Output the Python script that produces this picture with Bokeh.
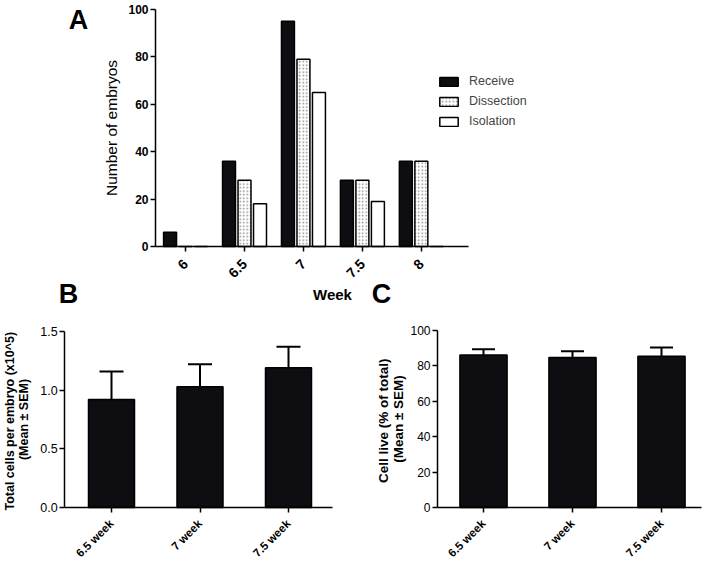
from math import pi
from bokeh.plotting import figure
from bokeh.models import (FixedTicker, Label, Legend, LegendItem, Whisker, TeeHead,
                          ColumnDataSource)
from bokeh.layouts import column, row
from bokeh.transform import dodge
from bokeh.embed import file_html
from bokeh.resources import INLINE

# ---------------- data ----------------
weeks = ["6", "6.5", "7", "7.5", "8"]
receive = [6, 36, 95, 28, 36]
dissection = [0, 28, 79, 28, 36]
isolation = [0, 18, 65, 19, 0]
A_yticks = [0, 20, 40, 60, 80, 100]

groups = ["6.5 week", "7 week", "7.5 week"]
cells_mean = [0.92, 1.03, 1.19]
cells_sem = [0.24, 0.19, 0.18]
B_yticks = [0.0, 0.5, 1.0, 1.5]

live_mean = [86.2, 84.7, 85.5]
live_sem = [3.2, 3.6, 4.9]
C_yticks = [0, 20, 40, 60, 80, 100]

FONT = "Liberation Sans"
BLACK = "#0d0d12"
W, H = 705, 564
A_H = 312


def lin(p0, d0, p1, d1):
    return lambda p: d0 + (p - p0) * (d1 - d0) / (p1 - p0)


def make_fig(left, top, width, height, xmap, ymap, xb, yb):
    """Figure whose frame fills the whole canvas; axes at fixed data locations.
    xmap / ymap: (page_px0, data0, page_px1, data1) in page pixel coordinates."""
    fx = lin(*xmap)
    fy = lin(*ymap)
    p = figure(width=width, height=height,
               x_range=(fx(left), fx(left + width)),
               y_range=(fy(top + height), fy(top)),
               output_backend="svg", toolbar_location=None, title=None,
               min_border=0)
    p.outline_line_color = None
    p.xgrid.visible = False
    p.ygrid.visible = False
    p.background_fill_color = "white"
    p.border_fill_color = "white"
    p.xaxis.fixed_location = yb[0]
    p.xaxis.bounds = xb
    p.yaxis.fixed_location = xb[0]
    p.yaxis.bounds = yb
    for ax in (p.xaxis, p.yaxis):
        ax.axis_line_width = 1.5
        ax.axis_line_color = "black"
        ax.major_tick_line_width = 1.5
        ax.major_tick_line_color = "black"
        ax.major_tick_out = 5
        ax.major_tick_in = 0
        ax.minor_tick_line_color = None
        ax.major_label_text_font = FONT
        ax.axis_label_text_font = FONT
        ax.major_label_text_color = "black"
        ax.axis_label_text_color = "black"
    return p, fx, fy


# ---------------- panel A ----------------
A_xb = (-0.51, 4.8)
pA, ax_, ay_ = make_fig(0, 0, W, A_H, (155, -0.51, 468, 4.8), (246, 0, 9, 100),
                        A_xb, (0, 100))

srcA = ColumnDataSource(dict(x=list(range(len(weeks))), receive=receive,
                             dissection=dissection, isolation=isolation))
bw = 0.22
off = 0.263
r1 = pA.vbar(x=dodge("x", -off), top="receive", width=bw, source=srcA,
             fill_color=BLACK, line_color="black", line_width=1.5)
r2 = pA.vbar(x=dodge("x", 0), top="dissection", width=bw, source=srcA,
             fill_color="white", line_color="black", line_width=1.5,
             hatch_pattern="dot", hatch_scale=3.5, hatch_weight=1, hatch_color="#8a8a8a")
r3 = pA.vbar(x=dodge("x", off), top="isolation", width=bw, source=srcA,
             fill_color="white", line_color="black", line_width=1.5)

pA.xaxis.ticker = FixedTicker(ticks=list(range(len(weeks))))
pA.xaxis.major_label_overrides = {i: w for i, w in enumerate(weeks)}
pA.xaxis.major_label_orientation = pi / 4
pA.xaxis.major_label_text_font_style = "bold"
pA.xaxis.major_label_text_font_size = "14px"
pA.xaxis.major_label_standoff = 10
pA.yaxis.ticker = FixedTicker(ticks=A_yticks)
pA.yaxis.major_label_text_font_style = "bold"
pA.yaxis.major_label_text_font_size = "12px"
pA.yaxis.major_label_standoff = 2
pA.yaxis.axis_label = "Number of embryos"
pA.yaxis.axis_label_text_font_style = "normal"
pA.yaxis.axis_label_text_font_size = "15.5px"
pA.yaxis.axis_label_standoff = 5

legend = Legend(items=[LegendItem(label="Receive", renderers=[r1]),
                       LegendItem(label="Dissection", renderers=[r2]),
                       LegendItem(label="Isolation", renderers=[r3])],
                location=(437, A_H - 131),
                glyph_width=23, glyph_height=11, label_standoff=9,
                label_text_font=FONT, label_text_font_size="12.5px",
                label_height=20, padding=0, margin=0, spacing=0,
                border_line_color=None, background_fill_alpha=0)
pA.add_layout(legend)

for txt, (px, py), size in [("A", (78, 19), "27px"),
                            ("B", (68, 293), "27px"),
                            ("C", (381, 293), "27px"),
                            ("Week", (332, 294), "15px")]:
    pA.add_layout(Label(x=ax_(px), y=ay_(py), text=txt, text_font=FONT,
                        text_font_size=size, text_font_style="bold",
                        text_align="center", text_baseline="middle",
                        text_color="black"))


# ---------------- panels B & C ----------------
def bar_panel(left, width, xmap, ymap, xb, yb, means, sems, yticks,
              ylabel, ylabel_size, ylabel_standoff, ytick_size, cap, bar_w):
    p, fx, fy = make_fig(left, A_H, width, H - A_H, xmap, ymap, xb, yb)
    src = ColumnDataSource(dict(x=list(range(len(groups))), mean=means,
                                upper=[m + s for m, s in zip(means, sems)]))
    p.add_layout(Whisker(source=src, base="x", lower="mean", upper="upper",
                         dimension="height", line_width=2, line_color="black",
                         upper_head=TeeHead(size=cap, line_width=2, line_color="black"),
                         lower_head=None))
    p.vbar(x="x", top="mean", width=bar_w, source=src, fill_color=BLACK,
           line_color="black", line_width=1.5)
    p.xaxis.ticker = FixedTicker(ticks=list(range(len(groups))))
    p.xaxis.major_label_overrides = {i: g for i, g in enumerate(groups)}
    p.xaxis.major_label_orientation = pi / 4
    p.xaxis.major_label_text_font_style = "bold"
    p.xaxis.major_label_text_font_size = "11.5px"
    p.xaxis.major_label_standoff = 9
    p.yaxis.ticker = FixedTicker(ticks=yticks)
    p.yaxis.major_label_text_font_size = ytick_size
    p.yaxis.major_label_standoff = 2
    p.yaxis.axis_label = ylabel
    p.yaxis.axis_label_text_font_style = "bold"
    p.yaxis.axis_label_text_font_size = ylabel_size
    p.yaxis.axis_label_text_line_height = 1.0
    p.yaxis.axis_label_standoff = ylabel_standoff
    return p


pB = bar_panel(0, 362, (111, 0, 288, 2), (507, 0, 331, 1.5), (-0.53, 2.5), (0, 1.5),
               cells_mean, cells_sem, B_yticks,
               "Total cells per embryo  (x10^5)\n(Mean \u00b1 SEM)", "12.5px", 6,
               "12.5px", 24, 0.52)
pB.yaxis.major_label_overrides = {t: f"{t:.1f}" for t in B_yticks}

pC = bar_panel(362, W - 362, (483, 0, 661, 2), (507, 0, 330, 100), (-0.517, 2.45), (0, 100),
               live_mean, live_sem, C_yticks,
               "Cell live  (% of total)\n(Mean \u00b1 SEM)", "13.5px", 1,
               "12px", 23, 0.53)

layout = column(pA, row(pB, pC))
open("out.html", "w").write(file_html(layout, INLINE))
